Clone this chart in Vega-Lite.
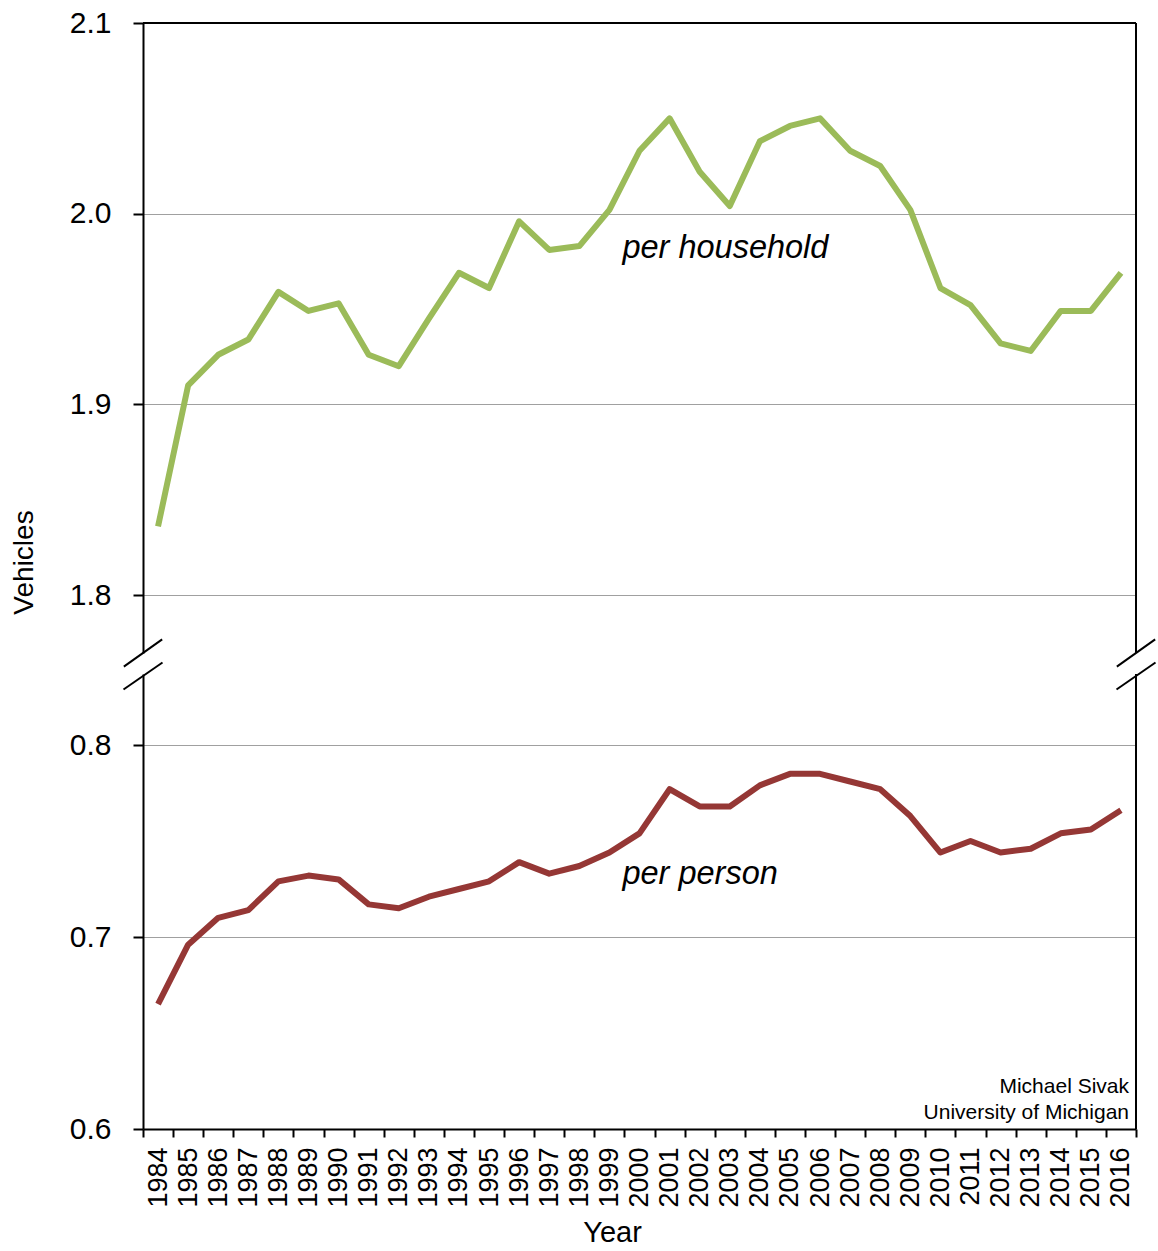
{
  "$schema": "https://vega.github.io/schema/vega-lite/v6.json",
  "background": "white",
  "padding": {"left": 10, "top": 8, "right": 10, "bottom": 5},
  "spacing": 21,
  "bounds": "flush",
  "datasets": {
    "household": [
      {"year": 1984, "vehicles": 1.836}, {"year": 1985, "vehicles": 1.910}, {"year": 1986, "vehicles": 1.926},
      {"year": 1987, "vehicles": 1.934}, {"year": 1988, "vehicles": 1.959}, {"year": 1989, "vehicles": 1.949},
      {"year": 1990, "vehicles": 1.953}, {"year": 1991, "vehicles": 1.926}, {"year": 1992, "vehicles": 1.920},
      {"year": 1993, "vehicles": 1.945}, {"year": 1994, "vehicles": 1.969}, {"year": 1995, "vehicles": 1.961},
      {"year": 1996, "vehicles": 1.996}, {"year": 1997, "vehicles": 1.981}, {"year": 1998, "vehicles": 1.983},
      {"year": 1999, "vehicles": 2.002}, {"year": 2000, "vehicles": 2.033}, {"year": 2001, "vehicles": 2.050},
      {"year": 2002, "vehicles": 2.022}, {"year": 2003, "vehicles": 2.004}, {"year": 2004, "vehicles": 2.038},
      {"year": 2005, "vehicles": 2.046}, {"year": 2006, "vehicles": 2.050}, {"year": 2007, "vehicles": 2.033},
      {"year": 2008, "vehicles": 2.025}, {"year": 2009, "vehicles": 2.002}, {"year": 2010, "vehicles": 1.961},
      {"year": 2011, "vehicles": 1.952}, {"year": 2012, "vehicles": 1.932}, {"year": 2013, "vehicles": 1.928},
      {"year": 2014, "vehicles": 1.949}, {"year": 2015, "vehicles": 1.949}, {"year": 2016, "vehicles": 1.969}
    ],
    "person": [
      {"year": 1984, "vehicles": 0.665}, {"year": 1985, "vehicles": 0.696}, {"year": 1986, "vehicles": 0.710},
      {"year": 1987, "vehicles": 0.714}, {"year": 1988, "vehicles": 0.729}, {"year": 1989, "vehicles": 0.732},
      {"year": 1990, "vehicles": 0.730}, {"year": 1991, "vehicles": 0.717}, {"year": 1992, "vehicles": 0.715},
      {"year": 1993, "vehicles": 0.721}, {"year": 1994, "vehicles": 0.725}, {"year": 1995, "vehicles": 0.729},
      {"year": 1996, "vehicles": 0.739}, {"year": 1997, "vehicles": 0.733}, {"year": 1998, "vehicles": 0.737},
      {"year": 1999, "vehicles": 0.744}, {"year": 2000, "vehicles": 0.754}, {"year": 2001, "vehicles": 0.777},
      {"year": 2002, "vehicles": 0.768}, {"year": 2003, "vehicles": 0.768}, {"year": 2004, "vehicles": 0.779},
      {"year": 2005, "vehicles": 0.785}, {"year": 2006, "vehicles": 0.785}, {"year": 2007, "vehicles": 0.781},
      {"year": 2008, "vehicles": 0.777}, {"year": 2009, "vehicles": 0.763}, {"year": 2010, "vehicles": 0.744},
      {"year": 2011, "vehicles": 0.750}, {"year": 2012, "vehicles": 0.744}, {"year": 2013, "vehicles": 0.746},
      {"year": 2014, "vehicles": 0.754}, {"year": 2015, "vehicles": 0.756}, {"year": 2016, "vehicles": 0.766}
    ]
  },
  "vconcat": [
    {
      "width": 993,
      "height": 630,
      "data": {"name": "household"},
      "layer": [
        {
          "mark": {"type": "line", "color": "#9BBB59", "strokeWidth": 6, "strokeJoin": "round"},
          "encoding": {
            "x": {"field": "year", "type": "ordinal", "bandPosition": 0.5,
                  "scale": {"type": "band", "paddingInner": 0, "paddingOuter": 0}, "axis": null},
            "y": {"field": "vehicles", "type": "quantitative",
                  "scale": {"domain": [1.7696, 2.1], "nice": false, "zero": false},
                  "axis": {"values": [1.8, 1.9, 2.0, 2.1], "format": ".1f", "title": "Vehicles",
                           "titleFontSize": 28, "titlePadding": 31, "titleY": 539,
                           "labelFontSize": 30, "labelPadding": 22, "tickSize": 10, "grid": true}}
          }
        },
        {
          "data": {"values": [{}]},
          "mark": {"type": "rule", "color": "black", "strokeWidth": 2},
          "encoding": {"y": {"datum": 2.1, "type": "quantitative"}}
        },
        {
          "data": {"values": [{}]},
          "mark": {"type": "rule", "color": "black", "strokeWidth": 2},
          "encoding": {"x": {"datum": 2016, "type": "ordinal", "bandPosition": 1}}
        },
        {
          "data": {"values": [{}]},
          "mark": {"type": "point", "shape": "M -1 0.713 L 1 -0.713", "filled": false, "color": "black", "strokeWidth": 2, "size": 1467, "opacity": 1},
          "encoding": {"x": {"datum": 1984, "type": "ordinal", "bandPosition": 0}, "y": {"datum": 1.7696, "type": "quantitative"}}
        },
        {
          "data": {"values": [{}]},
          "mark": {"type": "point", "shape": "M -1 0.713 L 1 -0.713", "filled": false, "color": "black", "strokeWidth": 2, "size": 1467, "opacity": 1},
          "encoding": {"x": {"datum": 2016, "type": "ordinal", "bandPosition": 1}, "y": {"datum": 1.7696, "type": "quantitative"}}
        },
        {
          "data": {"values": [{}]},
          "mark": {"type": "text", "text": "per household", "fontSize": 32.5, "fontStyle": "italic", "align": "left", "baseline": "alphabetic", "dx": 13, "color": "black"},
          "encoding": {"x": {"datum": 1999, "type": "ordinal", "bandPosition": 0.5}, "y": {"datum": 1.9768, "type": "quantitative"}}
        }
      ]
    },
    {
      "width": 993,
      "height": 455,
      "data": {"name": "person"},
      "layer": [
        {
          "mark": {"type": "line", "color": "#953735", "strokeWidth": 6, "strokeJoin": "round"},
          "encoding": {
            "x": {"field": "year", "type": "ordinal", "bandPosition": 0.5,
                  "scale": {"type": "band", "paddingInner": 0, "paddingOuter": 0},
                  "axis": {"title": "Year", "titleFontSize": 29, "titlePadding": 11, "titleX": 469,
                           "labelAngle": -90, "labelFontSize": 27, "labelPadding": 10, "tickSize": 8,
                           "tickBand": "extent", "grid": false}},
            "y": {"field": "vehicles", "type": "quantitative",
                  "scale": {"domain": [0.6, 0.837], "nice": false, "zero": false},
                  "axis": {"values": [0.6, 0.7, 0.8], "format": ".1f", "title": null,
                           "labelFontSize": 30, "labelPadding": 22, "tickSize": 10, "grid": true}}
          }
        },
        {
          "data": {"values": [{}]},
          "mark": {"type": "rule", "color": "black", "strokeWidth": 2},
          "encoding": {"x": {"datum": 2016, "type": "ordinal", "bandPosition": 1}}
        },
        {
          "data": {"values": [{}]},
          "mark": {"type": "point", "shape": "M -1 0.692 L 1 -0.692", "filled": false, "color": "black", "strokeWidth": 2, "size": 1521, "opacity": 1},
          "encoding": {"x": {"datum": 1984, "type": "ordinal", "bandPosition": 0}, "y": {"datum": 0.837, "type": "quantitative"}, "yOffset": {"value": 2}}
        },
        {
          "data": {"values": [{}]},
          "mark": {"type": "point", "shape": "M -1 0.692 L 1 -0.692", "filled": false, "color": "black", "strokeWidth": 2, "size": 1521, "opacity": 1},
          "encoding": {"x": {"datum": 2016, "type": "ordinal", "bandPosition": 1}, "y": {"datum": 0.837, "type": "quantitative"}, "yOffset": {"value": 2}}
        },
        {
          "data": {"values": [{}]},
          "mark": {"type": "text", "text": "per person", "fontSize": 32.5, "fontStyle": "italic", "align": "left", "baseline": "alphabetic", "dx": 13, "color": "black"},
          "encoding": {"x": {"datum": 1999, "type": "ordinal", "bandPosition": 0.5}, "y": {"datum": 0.7276, "type": "quantitative"}}
        },
        {
          "data": {"values": [{}]},
          "mark": {"type": "text", "text": "Michael Sivak", "fontSize": 21, "align": "right", "baseline": "alphabetic", "dx": -7, "color": "black"},
          "encoding": {"x": {"datum": 2016, "type": "ordinal", "bandPosition": 1}, "y": {"datum": 0.6188, "type": "quantitative"}}
        },
        {
          "data": {"values": [{}]},
          "mark": {"type": "text", "text": "University of Michigan", "fontSize": 21, "align": "right", "baseline": "alphabetic", "dx": -7, "color": "black"},
          "encoding": {"x": {"datum": 2016, "type": "ordinal", "bandPosition": 1}, "y": {"datum": 0.6052, "type": "quantitative"}}
        }
      ]
    }
  ],
  "config": {
    "font": "Liberation Sans",
    "view": {"stroke": null},
    "axis": {
      "domainColor": "black", "domainWidth": 2, "tickColor": "black", "tickWidth": 2,
      "labelColor": "black", "titleColor": "black", "gridColor": "#A0A0A0", "gridWidth": 1,
      "labelFont": "Liberation Sans", "titleFont": "Liberation Sans", "titleFontWeight": "normal"
    }
  }
}
